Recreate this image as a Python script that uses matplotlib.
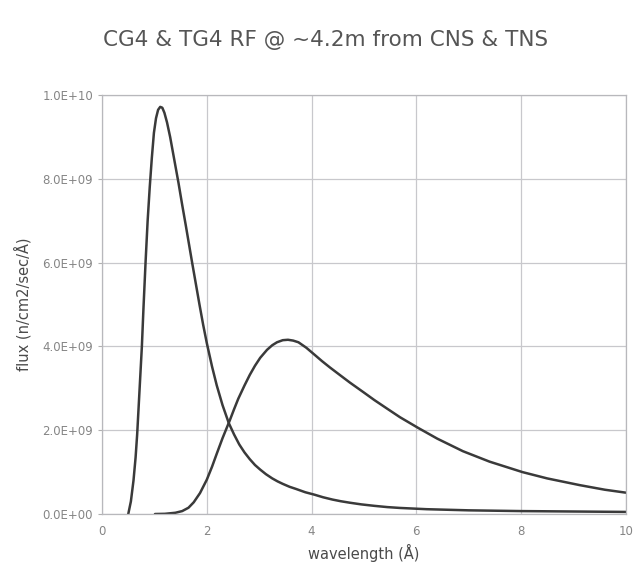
import numpy as np
import matplotlib
matplotlib.use("Agg")
import matplotlib.pyplot as plt
from matplotlib.ticker import FuncFormatter

# Curve values (wavelength in Angstrom, flux in 1e9 n/cm2/sec/A)
cns_wavelength = [0.50, 0.55, 0.60, 0.64, 0.67, 0.70, 0.73, 0.76, 0.79, 0.83,
                  0.87, 0.91, 0.95, 0.99, 1.03, 1.07, 1.11, 1.15, 1.19, 1.24,
                  1.30, 1.38, 1.46, 1.53, 1.60, 1.66, 1.72, 1.79, 1.86, 1.93,
                  2.00, 2.10, 2.19, 2.30, 2.42, 2.52, 2.62, 2.72, 2.82, 2.92,
                  3.02, 3.13, 3.25, 3.35, 3.45, 3.58, 3.70, 3.88, 4.06, 4.22,
                  4.40, 4.56, 4.73, 4.95, 5.20, 5.45, 5.69, 6.20, 7.00, 8.00,
                  9.00, 10.00]
cns_flux = [0.0, 0.3, 0.8, 1.35, 1.9, 2.6, 3.3, 4.0, 4.9, 6.0,
            7.0, 7.8, 8.5, 9.1, 9.45, 9.65, 9.72, 9.70, 9.58, 9.35,
            9.0, 8.45, 7.9, 7.38, 6.88, 6.44, 6.0, 5.5, 5.0, 4.52,
            4.08, 3.52, 3.07, 2.6, 2.17, 1.9, 1.66, 1.47, 1.31, 1.17,
            1.06, 0.95, 0.85, 0.78, 0.72, 0.65, 0.60, 0.52, 0.46, 0.40,
            0.345, 0.305, 0.27, 0.23, 0.195, 0.165, 0.145, 0.115, 0.088, 0.07,
            0.06, 0.05]

tns_wavelength = [1.01, 1.20, 1.40, 1.53, 1.65, 1.75, 1.87, 2.00, 2.10, 2.19,
                  2.30, 2.44, 2.52, 2.60, 2.72, 2.82, 2.92, 3.02, 3.15, 3.25,
                  3.34, 3.45, 3.55, 3.65, 3.75, 3.90, 4.06, 4.20, 4.35, 4.55,
                  4.73, 5.00, 5.20, 5.45, 5.69, 6.03, 6.40, 6.89, 7.40, 8.03,
                  8.50, 9.12, 9.60, 10.00]
tns_flux = [0.0, 0.005, 0.03, 0.07, 0.15, 0.28, 0.50, 0.82, 1.13, 1.44,
            1.81, 2.24, 2.50, 2.75, 3.07, 3.32, 3.54, 3.73, 3.92, 4.03,
            4.10, 4.15, 4.16, 4.14, 4.10, 3.97, 3.80, 3.65, 3.50, 3.31,
            3.14, 2.90, 2.72, 2.51, 2.31, 2.06, 1.80, 1.50, 1.25, 1.00,
            0.85, 0.69, 0.58, 0.51]

x_ticks = [0, 2, 4, 6, 8, 10]
y_ticks = [0, 2e9, 4e9, 6e9, 8e9, 1e10]

title = "CG4 & TG4 RF @ ~4.2m from CNS & TNS"
x_label = "wavelength (Å)"
y_label = "flux (n/cm2/sec/Å)"

plt.rcParams["font.family"] = ["DejaVu Sans"]

fig = plt.figure(figsize=(6.34, 5.63), dpi=100)
ax = fig.add_axes([0.161, 0.087, 0.826, 0.744])

line_color = "#3a3a3a"
ax.plot(cns_wavelength, np.array(cns_flux) * 1e9, color=line_color, lw=1.8,
        solid_joinstyle="round", solid_capstyle="round")
ax.plot(tns_wavelength, np.array(tns_flux) * 1e9, color=line_color, lw=1.8,
        solid_joinstyle="round", solid_capstyle="round")

ax.set_xlim(0, 10)
ax.set_ylim(0, 1e10)
ax.set_xticks(x_ticks)
ax.set_yticks(y_ticks)
ax.yaxis.set_major_formatter(FuncFormatter(lambda v, p: f"{v:.1E}"))

ax.grid(True, color="#c8c8cc", lw=0.9)
ax.set_axisbelow(True)
for side in ax.spines.values():
    side.set_color("#b8b8bc")
    side.set_linewidth(0.9)

ax.tick_params(axis="both", colors="#b0b0b0", labelcolor="#858585",
               labelsize=8.5, length=3, width=0.8)
ax.tick_params(axis="x", length=0, pad=8)

ax.set_xlabel(x_label, fontsize=10.5, color="#4a4a4a", labelpad=4)
ax.set_ylabel(y_label, fontsize=10.5, color="#4a4a4a", labelpad=8)

fig.text(0.514, 0.929, title, ha="center", va="center", fontsize=15.5,
         color="#555555")

fig.savefig("out.png", dpi=100, facecolor="white")
plt.close(fig)
